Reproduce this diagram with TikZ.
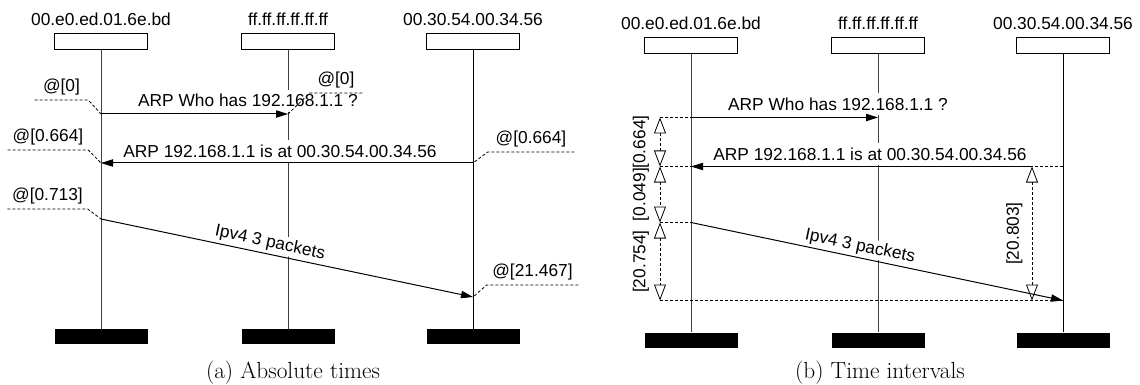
\documentclass[tikz,border=0pt]{standalone}
\usepackage{fontspec}
\newfontfamily\diagfont{Liberation Sans}
\usetikzlibrary{arrows.meta}

\tikzset{
  hostbox/.style={rectangle, draw, fill=white, line width=0.75pt, inner sep=0pt,
                  minimum width=69.75pt, minimum height=12pt},
  endbox/.style={rectangle, fill=black, inner sep=0pt,
                 minimum width=69.75pt, minimum height=11.25pt},
  hostname/.style={anchor=base},
  lifeline/.style={line width=0.7pt, black!75},
  msg/.style={line width=0.75pt, -{Triangle[length=9pt, width=5.5pt]}},
  msglabel/.style={fill=white, inner xsep=1pt, inner ysep=3.5pt},
  stamp/.style={anchor=south, inner sep=3.5pt},
  stampline/.style={line width=0.6pt, dash pattern=on 2.25pt off 1.5pt},
  dimline/.style={line width=0.6pt, dash pattern=on 2.25pt off 1.5pt},
  dimarrow/.style={dimline, {Triangle[open, length=12pt, width=9pt]}-{Triangle[open, length=12pt, width=9pt]}},
  dimlabel/.style={rotate=90, inner sep=0pt},
  caption/.style={font=\rmfamily\fontsize{17.5}{20}\selectfont}
}

\begin{document}
\begin{tikzpicture}[x=0.75pt, y=-0.75pt,
    every node/.append style={font=\diagfont\fontsize{13}{15}\selectfont}]
\useasboundingbox (0,0) rectangle (1140,385);

% ---------------- (a) absolute times ----------------
\begin{scope}
  \node[hostname] (NA_1) at (101,26) {00.e0.ed.01.6e.bd};
  \node[hostname] (NA_2) at (288,26) {ff.ff.ff.ff.ff.ff};
  \node[hostname] (NA_3) at (473,26) {00.30.54.00.34.56};

  \node[hostbox] (HA_1) at (101,42) {};
  \node[hostbox] (HA_2) at (288,42) {};
  \node[hostbox] (HA_3) at (473,42) {};

  \node[endbox] (EA_1) at (101,336.5) {};
  \node[endbox] (EA_2) at (288,336.5) {};
  \node[endbox] (EA_3) at (473,336.5) {};

  \draw[lifeline] (HA_1) -- (EA_1);
  \draw[lifeline] (HA_2) -- (EA_2);
  \draw[lifeline, black] (HA_3) -- (EA_3);

  % message end points on the lifelines
  \coordinate (PA_1) at (101,114);
  \coordinate (PA_2) at (288,114);
  \coordinate (PA_3) at (473,163);
  \coordinate (PA_4) at (101,163);
  \coordinate (PA_5) at (101,219);
  \coordinate (PA_6) at (473,297);

  \node[msglabel, anchor=base] (MA_1) at (248,107) {ARP Who has 192.168.1.1 ?};
  \node[msglabel, anchor=base] (MA_2) at (280,157) {ARP 192.168.1.1 is at 00.30.54.00.34.56};
  \node[msglabel, inner ysep=1pt, rotate=-11.8] (MA_3) at (270,243) {Ipv4 3 packets};

  \draw[msg] (PA_1) -- (PA_2);
  \draw[msg] (PA_3) -- (PA_4);
  \draw[msg] (PA_5) -- (PA_6);

  % time stamps
  \node[stamp, minimum width=39.75pt] (TA_1) at (61.5,100)  {@[0]};
  \node[stamp, minimum width=39pt]    (TA_2) at (336,93)    {@[0]};
  \node[stamp, minimum width=60pt]    (TA_3) at (48,150)    {@[0.664]};
  \node[stamp, minimum width=64.5pt]  (TA_4) at (531,152)   {@[0.664]};
  \node[stamp, minimum width=59.25pt] (TA_5) at (47.5,209)  {@[0.713]};
  \node[stamp, minimum width=68.25pt] (TA_6) at (532.5,285) {@[21.467]};

  \draw[stampline] (TA_1.south west) -- (TA_1.south east) -- (PA_1);
  \draw[stampline] (TA_2.south east) -- (TA_2.south west) -- (PA_2);
  \draw[stampline] (TA_3.south west) -- (TA_3.south east) -- (PA_4);
  \draw[stampline] (TA_4.south east) -- (TA_4.south west) -- (PA_3);
  \draw[stampline] (TA_5.south west) -- (TA_5.south east) -- (PA_5);
  \draw[stampline] (TA_6.south east) -- (TA_6.south west) -- (PA_6);

  \node[caption] (CAP_A) at (293,373) {(a) Absolute times};
\end{scope}

% ---------------- (b) time intervals ----------------
\begin{scope}[shift={(590,3.5)}]
  \node[hostname] (NB_1) at (101,26) {00.e0.ed.01.6e.bd};
  \node[hostname] (NB_2) at (288,26) {ff.ff.ff.ff.ff.ff};
  \node[hostname] (NB_3) at (473,26) {00.30.54.00.34.56};

  \node[hostbox] (HB_1) at (101,42) {};
  \node[hostbox] (HB_2) at (288,42) {};
  \node[hostbox] (HB_3) at (473,42) {};

  \node[endbox] (EB_1) at (101,336.5) {};
  \node[endbox] (EB_2) at (288,336.5) {};
  \node[endbox] (EB_3) at (473,336.5) {};

  \draw[lifeline] (HB_1) -- (EB_1);
  \draw[lifeline] (HB_2) -- (EB_2);
  \draw[lifeline, black] (HB_3) -- (EB_3);

  \coordinate (PB_1) at (101,114);
  \coordinate (PB_2) at (288,114);
  \coordinate (PB_3) at (473,163);
  \coordinate (PB_4) at (101,163);
  \coordinate (PB_5) at (101,219);
  \coordinate (PB_6) at (473,297);

  % ends of the interval marks
  \coordinate (DB_1) at (70,114);
  \coordinate (DB_2) at (70,163);
  \coordinate (DB_3) at (70,219);
  \coordinate (DB_4) at (70,297);
  \coordinate (DB_5) at (442,163);
  \coordinate (DB_6) at (442,297);

  \node[msglabel, anchor=base] (MB_1) at (248,107) {ARP Who has 192.168.1.1 ?};
  \node[msglabel, anchor=base] (MB_2) at (280,157) {ARP 192.168.1.1 is at 00.30.54.00.34.56};
  \node[msglabel, inner ysep=1pt, rotate=-11.8] (MB_3) at (270,243) {Ipv4 3 packets};

  \draw[dimline] (DB_1) -- (PB_1);
  \draw[dimline] (DB_2) -- (PB_4);
  \draw[dimline] (DB_3) -- (PB_5);
  \draw[dimline] (DB_4) -- (PB_6);
  \draw[dimline] (PB_3) -- (DB_5);

  \draw[msg] (PB_1) -- (PB_2);
  \draw[msg] (DB_5) -- (PB_4);
  \draw[msg] (PB_5) -- (PB_6);

  \draw[dimarrow] (DB_1) -- (DB_2);
  \draw[dimarrow] (DB_2) -- (DB_3);
  \draw[dimarrow] (DB_3) -- (DB_4);
  \draw[dimarrow] (DB_5) -- (DB_6);

  \node[dimlabel] (LB_1) at (51,138.5)  {[0.664]};
  \node[dimlabel] (LB_2) at (51,191)    {[0.049]};
  \node[dimlabel] (LB_3) at (51,258)    {[20.754]};
  \node[dimlabel] (LB_4) at (424.5,230) {[20.803]};

  \node[caption] (CAP_B) at (290,369.5) {(b) Time intervals};
\end{scope}

\end{tikzpicture}
\end{document}
